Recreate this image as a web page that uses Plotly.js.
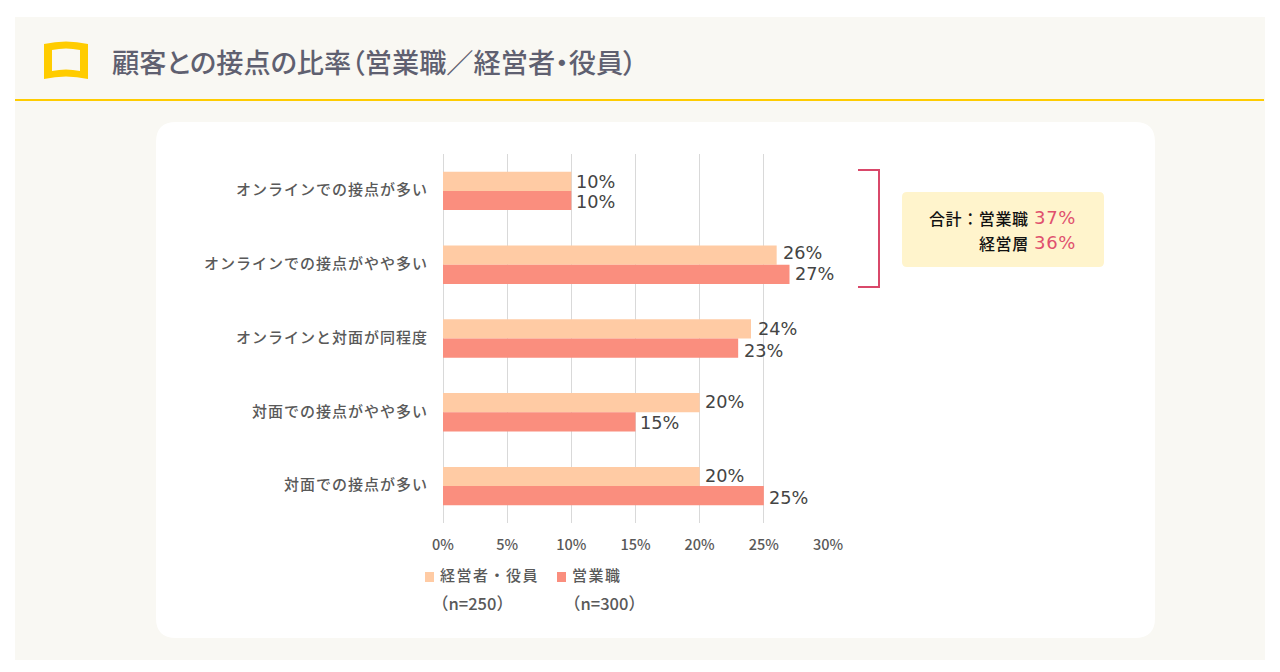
<!DOCTYPE html>
<html><head><meta charset="utf-8">
<script src="https://cdn.plot.ly/plotly-3.0.1.min.js"></script>
<style>html,body{margin:0;padding:0;background:#fff;overflow:hidden}#c{width:1280px;height:672px}
.ytick text{letter-spacing:1px}</style>
</head><body><div id="c"></div>
<script>
const categories = ["オンラインでの接点が多い","オンラインでの接点がやや多い","オンラインと対面が同程度","対面での接点がやや多い","対面での接点が多い"];
const executives = [10,26,24,20,20];
const sales = [10,27,23,15,25];
const executiveName = "経営者・役員";
const executiveCount = "（n=250）";
const salesName = "営業職";
const salesCount = "（n=300）";
const tickValues = [0,5,10,15,20,25,30];
const tickLabels = ["0%","5%","10%","15%","20%","25%","30%"];
const titleText = "顧客との接点の比率（営業職／経営者・役員）";
const colorExec = "#FFCBA4", colorSales = "#FA8E7E";
// small hand nudges of the value labels, in pixels (style only)
const execNudge = [[5,1],[6,-2],[7,0],[5,0],[5,0]];
const salesNudge = [[5,1],[5,-1],[6,2],[4,1],[5,2]];

const L=443,R=828,T=154,B=523;
const px=x=>(x-L)/(R-L), py=y=>(B-y)/(B-T);
const P=(x,y)=>px(x).toFixed(5)+","+py(y).toFixed(5);
const rr=(x0,y0,x1,y1,r)=>`M${P(x0+r,y0)} L${P(x1-r,y0)} Q${P(x1,y0)} ${P(x1,y0+r)} L${P(x1,y1-r)} Q${P(x1,y1)} ${P(x1-r,y1)} L${P(x0+r,y1)} Q${P(x0,y1)} ${P(x0,y1-r)} L${P(x0,y0+r)} Q${P(x0,y0)} ${P(x0+r,y0)} Z`;
const shape=(path,fill,line,w)=>({type:"path",xref:"paper",yref:"paper",layer:"below",path,fillcolor:fill||"rgba(0,0,0,0)",line:{color:line||"rgba(0,0,0,0)",width:w||0}});
const FONT='"Noto Sans CJK JP"', NUM='"DejaVu Sans"';
const shapes=[
 shape(`M${P(15,17)} L${P(1265,17)} L${P(1265,660)} L${P(15,660)} Z`,"#F9F8F3"),
 shape(`M${P(15,100)} L${P(1264,100)}`,null,"#FFCC00",2),
 shape(`M${P(44,44)} Q${P(66,39)} ${P(88,44)} L${P(88,79)} Q${P(66,74)} ${P(44,79)} Z M${P(52,50)} L${P(52,71)} Q${P(66,68)} ${P(80,71)} L${P(80,50)} Q${P(66,47)} ${P(52,50)} Z`,"#FFCC00"),
 shape(rr(156,122,1155,638,20),"#FFFFFF"),
 shape(rr(902,192,1104,267,5),"#FFF4CC"),
 shape(`M${P(858,170)} L${P(879,170)} L${P(879,287)} L${P(858,287)}`,null,"#D9486A",2),
 shape(`M${P(425,572)} L${P(434,572)} L${P(434,582)} L${P(425,582)} Z`,colorExec),
 shape(`M${P(557,572)} L${P(566,572)} L${P(566,582)} L${P(557,582)} Z`,colorSales)
];
const ann=(x,y,text,anchor,color,family,size,weight)=>({xref:"paper",yref:"paper",x:px(x),y:py(y),text,showarrow:false,xanchor:anchor,yanchor:"middle",font:{family,size,color,weight:weight||400}});
const spaced=(t,s)=>`<span style='letter-spacing:${s}px'>${t}</span>`;
const valueLabels=(vals,nudge,dir)=>vals.map((v,i)=>({xref:"x",yref:"y",x:v,y:categories[i],text:v+"%",showarrow:false,xanchor:"left",yanchor:"middle",xshift:nudge[i][0]-2,yshift:-(dir*10+nudge[i][1]),font:{family:NUM,size:17.7,color:"#444444"}}));
const annotations=[
 ann(110,61,`<span style='font-feature-settings:"palt"'>${titleText}</span>`,"left","#5F6070",FONT,27.2,500),
 ann(1031,217.5,spaced("合計：営業職",0.6),"right","#111111",FONT,16,500),
 ann(1031,242.5,spaced("経営層",0.6),"right","#111111",FONT,16,500),
 ann(1032,217.5,spaced("37%",0.7),"left","#E0506E",NUM,18),
 ann(1032,242.5,spaced("36%",0.7),"left","#E0506E",NUM,18),
 ann(438,574.5,spaced(executiveName,1.5),"left","#595959",FONT,15,500),
 ann(570,574.5,spaced(salesName,1.5),"left","#595959",FONT,15,500),
 ann(429.5,603,executiveCount,"left","#595959",FONT,16.5,500),
 ann(561.5,603,salesCount,"left","#595959",FONT,16.5,500),
 ...valueLabels(executives,execNudge,-1),
 ...valueLabels(sales,salesNudge,1)
];
const bar=(name,x,color)=>({type:"bar",orientation:"h",name,y:categories,x,marker:{color},hoverinfo:"skip"});
Plotly.newPlot("c",[bar(executiveName,executives,colorExec),bar(salesName,sales,colorSales)],{
 width:1280,height:672,autosize:false,
 margin:{l:L,r:1280-R,t:T,b:672-B,pad:0},
 paper_bgcolor:"rgba(0,0,0,0)",plot_bgcolor:"rgba(0,0,0,0)",
 barmode:"group",bargap:0.48,bargroupgap:0,
 font:{family:FONT,color:"#595959"},
 xaxis:{range:[0,30],tickvals:tickValues,ticktext:tickLabels,showgrid:true,gridcolor:"#D9D9D9",gridwidth:1,zeroline:true,zerolinecolor:"#D9D9D9",zerolinewidth:1,showline:false,ticks:"",ticklabelstandoff:11,tickfont:{family:FONT,size:14.5,color:"#595959",weight:500},automargin:false},
 yaxis:{type:"category",autorange:"reversed",showgrid:false,zeroline:false,showline:false,ticks:"",ticklabelstandoff:14,ticklabelshift:1,tickfont:{family:FONT,size:15,color:"#595959",weight:500},automargin:false},
 showlegend:false,
 shapes,annotations
},{displayModeBar:false,staticPlot:true});
</script></body></html>
